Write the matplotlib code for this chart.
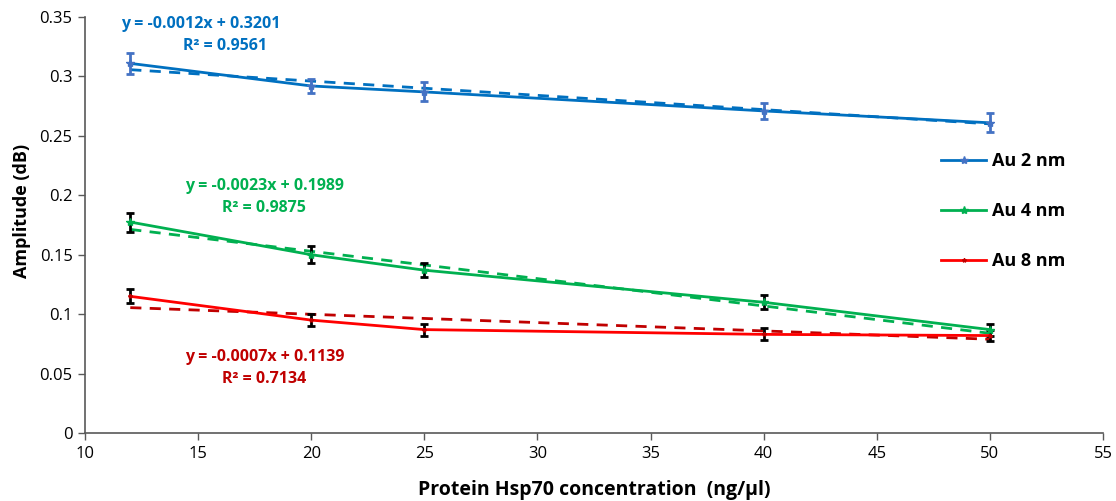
import matplotlib
matplotlib.use("Agg")
import matplotlib.pyplot as plt
import numpy as np

plt.rcParams['font.family'] = ['Open Sans', 'DejaVu Sans']

conc = [12, 20, 25, 40, 50]
au2 = [0.311, 0.292, 0.287, 0.271, 0.261]
au4 = [0.1775, 0.150, 0.137, 0.110, 0.087]
au8 = [0.115, 0.095, 0.087, 0.083, 0.082]
err2 = [0.009, 0.006, 0.008, 0.007, 0.008]
err4 = [0.008, 0.007, 0.006, 0.006, 0.005]
err8 = [0.006, 0.005, 0.005, 0.005, 0.005]
slopes = [-0.0012, -0.0023, -0.0007]
intercepts = [0.3201, 0.1989, 0.1139]
r2 = [0.9561, 0.9875, 0.7134]
names = ["Au 2 nm", "Au 4 nm", "Au 8 nm"]

line_colors = ["#0070C0", "#00B050", "#FF0000"]
trend_colors = ["#0070C0", "#00B050", "#C00000"]
err_colors = ["#4472C4", "black", "black"]
marker_colors = ["#4472C4", "#00B050", "#C00000"]
text_colors = ["#0070C0", "#00B050", "#C00000"]

fig = plt.figure(figsize=(11.16, 5.01), dpi=100)
ax = fig.add_axes([0.0762, 0.1357, 0.9122, 0.8303])

series = [au2, au4, au8]
errs = [err2, err4, err8]
x = np.array(conc, dtype=float)
for i in range(3):
    ax.errorbar(x, series[i], yerr=errs[i], fmt='none', ecolor=err_colors[i],
                elinewidth=2, capsize=3, capthick=2, zorder=3)
    ax.plot(x, series[i], color=line_colors[i], lw=2, marker='*',
            markersize=6 if i < 2 else 3, markerfacecolor=marker_colors[i],
            markeredgecolor=marker_colors[i], label=names[i], zorder=4)
    xt = np.array([conc[0], conc[-1]], dtype=float)
    ax.plot(xt, slopes[i] * xt + intercepts[i], color=trend_colors[i], lw=2,
            ls=(0, (4, 3)), zorder=2)

# (x_eq, y_eq, x_r2, y_r2)
eq_pos = [(15.1, 0.344, 16.2, 0.3256), (17.95, 0.2078, 17.9, 0.1893),
          (17.95, 0.0639, 17.9, 0.0454)]
for i in range(3):
    x1, y1, x2, y2 = eq_pos[i]
    ax.text(x1, y1, f"y = {slopes[i]:.4f}x + {intercepts[i]:.4f}", color=text_colors[i],
            fontsize=11.5, fontweight='bold', ha='center', va='center')
    ax.text(x2, y2, f"R² = {r2[i]:.4f}", color=text_colors[i],
            fontsize=11.5, fontweight='bold', ha='center', va='center')

ax.set_xlim(10, 55)
ax.set_ylim(0, 0.35)
ax.set_xticks(np.arange(10, 56, 5))
ax.set_yticks(np.arange(0, 0.351, 0.05))
ax.set_yticklabels(["0", "0.05", "0.1", "0.15", "0.2", "0.25", "0.3", "0.35"])
ax.tick_params(labelsize=12, direction='out', length=5, width=1, color='#595959',
               pad=4)
for s in ['top', 'right']:
    ax.spines[s].set_visible(False)
for s in ['left', 'bottom']:
    ax.spines[s].set_color('#595959')
    ax.spines[s].set_linewidth(1.2)

ax.set_xlabel("Protein Hsp70 concentration  (ng/µl)", fontsize=14, fontweight='bold',
              labelpad=13)
ax.set_ylabel("Amplitude (dB)", fontsize=13, fontweight='bold', labelpad=4)
ax.yaxis.set_label_coords(-0.053, 0.535)

leg = ax.legend(loc='upper left', bbox_to_anchor=(0.825, 0.715), frameon=False,
                prop={'weight': 'bold', 'size': 13}, labelspacing=1.78,
                handlelength=2.5, handletextpad=0.3, markerscale=1)

fig.savefig("out.png", dpi=100)
